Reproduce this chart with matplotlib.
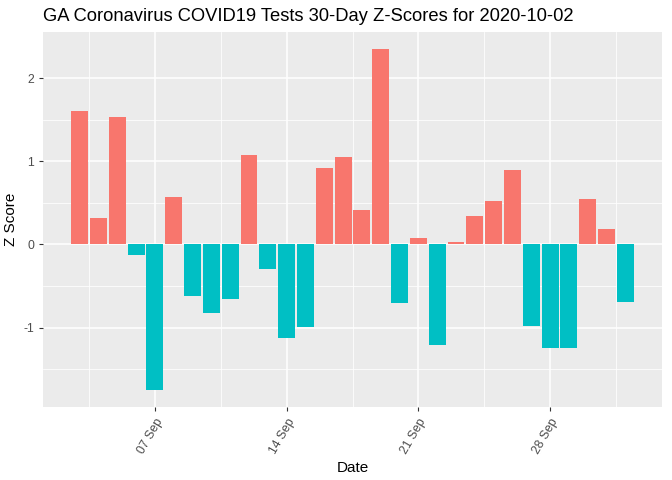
import numpy as np
import pandas as pd
import matplotlib
matplotlib.use("Agg")
import matplotlib.pyplot as plt
import matplotlib.dates as mdates

plt.rcParams['font.family'] = ['Liberation Sans', 'DejaVu Sans']

dates = pd.date_range("2020-09-03", "2020-10-02", freq="D")
zscores = [1.60, 0.32, 1.53, -0.13, -1.75, 0.57, -0.62, -0.82, -0.66, 1.08,
           -0.29, -1.12, -0.99, 0.92, 1.05, 0.41, 2.35, -0.71, 0.08, -1.21,
           0.03, 0.34, 0.52, 0.89, -0.98, -1.25, -1.24, 0.55, 0.18, -0.69]
tick_dates = pd.to_datetime(["2020-09-07", "2020-09-14", "2020-09-21", "2020-09-28"])
tick_labels = ["07 Sep", "14 Sep", "21 Sep", "28 Sep"]

pos_col = "#F8766D"
neg_col = "#00BFC4"

fig = plt.figure(figsize=(6.72, 4.8), dpi=100)
ax = fig.add_axes([43 / 672, 1 - 407 / 480, (662 - 43) / 672, (407 - 32) / 480])

x = mdates.date2num(dates)
z = np.array(zscores)
colors = [pos_col if v > 0 else neg_col for v in z]
ax.bar(x, z, width=0.9, color=colors, zorder=3)

# ggplot-like expansion
xr = (x.min() - 0.45, x.max() + 0.45)
pad = (xr[1] - xr[0]) * 0.05
ax.set_xlim(xr[0] - pad, xr[1] + pad)
yr = (z.min(), z.max())
ypad = (yr[1] - yr[0]) * 0.05
ax.set_ylim(yr[0] - ypad, yr[1] + ypad)

ax.set_facecolor("#EBEBEB")
for s in ax.spines.values():
    s.set_visible(False)

xt = mdates.date2num(tick_dates)
ax.set_xticks(xt)
ax.set_xticklabels(tick_labels, rotation=60, ha="right", rotation_mode="anchor",
                   color="#4D4D4D", fontsize=8.8)
ax.set_xticks(np.concatenate([[xt[0] - 3.5], xt + 3.5]), minor=True)
ax.set_yticks([-1, 0, 1, 2])
ax.set_yticklabels(["-1", "0", "1", "2"], color="#4D4D4D", fontsize=8.8)
ax.set_yticks([-1.5, -0.5, 0.5, 1.5], minor=True)

ax.grid(which="major", color="white", linewidth=1.1, zorder=0)
ax.grid(which="minor", color="white", linewidth=0.55, zorder=0)
ax.set_axisbelow(True)
ax.tick_params(which="major", length=3, color="#333333", width=0.8)
ax.tick_params(which="minor", length=0)

ax.set_xlabel("Date", fontsize=11, labelpad=4)
ax.set_ylabel("Z Score", fontsize=11, labelpad=4)
ax.set_title("GA Coronavirus COVID19 Tests 30-Day Z-Scores for 2020-10-02",
             fontsize=13.2, loc="left", x=-0.0, pad=8)

fig.savefig("out.png", dpi=100)
